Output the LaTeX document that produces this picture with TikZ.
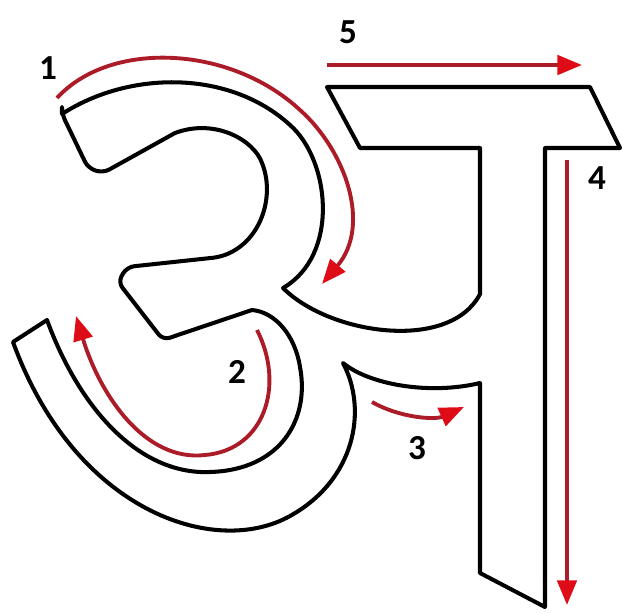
\documentclass[tikz,border=0pt]{standalone}
\usepackage{fontspec}
\setmainfont{Carlito}
\usetikzlibrary{arrows.meta}
\definecolor{strokered}{RGB}{172,28,40}
\definecolor{tipred}{RGB}{222,12,22}

\begin{document}
\begin{tikzpicture}[x=0.02cm, y=-0.02cm,
    outline/.style={line width=2.3pt, line join=round},
    order/.style={line width=2.2pt, strokered, -{Triangle[length=14pt, width=11pt, color=tipred]}},
    num/.style={font=\fontsize{20}{22}\selectfont\bfseries}]
    \useasboundingbox (0,0) rectangle (623,613);

    % Letter outline
    \draw[outline] (62,114)
        .. controls (130,70) and (230,70) .. (290,125)
        .. controls (330,160) and (340,255) .. (283,288)
        .. controls (330,335) and (450,352) .. (480,294)
        -- (480,148) -- (360,148) -- (327,87) -- (590,87) -- (620,148) -- (545,148)
        -- (545,607) -- (480,573) -- (480,383)
        .. controls (430,395) and (370,385) .. (343,363)
        .. controls (368,410) and (355,480) .. (290,516)
        .. controls (215,558) and (75,512) .. (13,342)
        -- (47,320)
        .. controls (80,410) and (140,475) .. (210,472)
        .. controls (280,470) and (310,420) .. (300,367)
        .. controls (295,335) and (275,312) .. (252,310)
        {[rounded corners=4pt] -- (163,340) -- (118,282) -- (127,267) -- (220,257)}
        .. controls (262,240) and (275,195) .. (262,163)
        .. controls (254,140) and (215,118) .. (175,133)
        {[rounded corners=4pt] -- (103,173) -- (88,168) -- (62,114)} -- cycle;

    % Stroke order arrows
    \coordinate (s1) at (57,98);
    \coordinate (e1) at (322,284);
    \draw[order] (s1) .. controls (110,40) and (230,45) .. (300,110)
        .. controls (345,150) and (372,225) .. (e1);

    \coordinate (s2) at (257,330);
    \coordinate (e2) at (76,316);
    \draw[order] (s2) .. controls (285,385) and (265,450) .. (205,455)
        .. controls (145,462) and (100,395) .. (e2);

    \coordinate (s3) at (372,402);
    \coordinate (e3) at (464,407);
    \draw[order] (s3) .. controls (400,418) and (435,420) .. (e3);

    \coordinate (s4) at (567,160);
    \coordinate (e4) at (567,605);
    \draw[order] (s4) -- (e4);

    \coordinate (s5) at (327,65);
    \coordinate (e5) at (582,65);
    \draw[order] (s5) -- (e5);

    % Numbers
    \node[num] (n1) at (48,68) {1};
    \node[num] (n2) at (237,372) {2};
    \node[num] (n3) at (417,448) {3};
    \node[num] (n4) at (597,178) {4};
    \node[num] (n5) at (348,32) {5};
\end{tikzpicture}
\end{document}
